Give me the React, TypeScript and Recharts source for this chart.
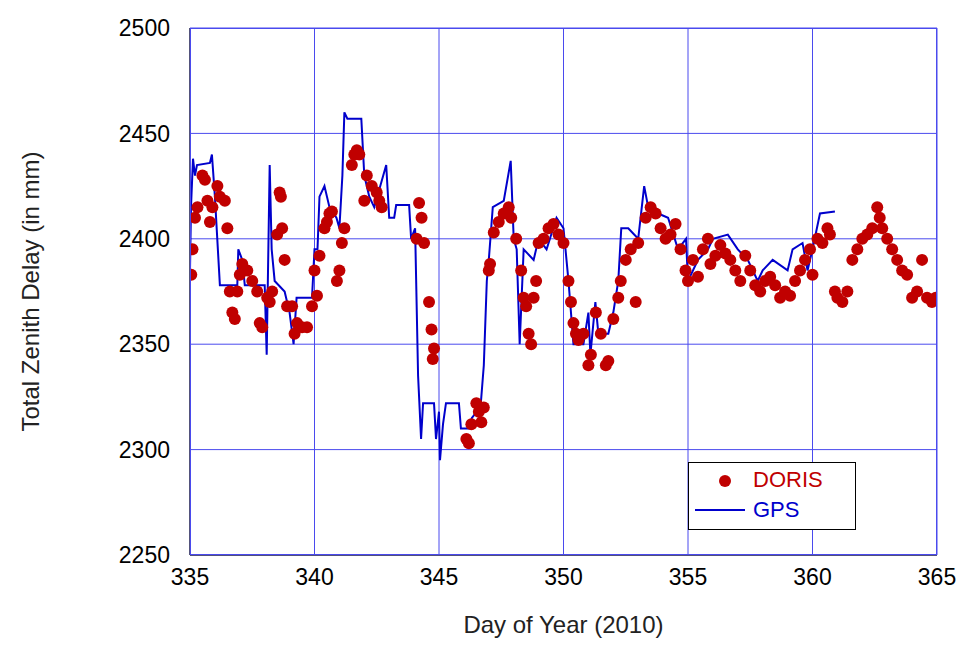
import React from "react";
import { ComposedChart, Scatter, Line, XAxis, YAxis, CartesianGrid } from "recharts";

const gpsDays = [335.0,335.04,335.12,335.2,335.28,335.8,335.88,336.0,336.2,336.9,336.94,337.1,337.2,338.0,338.08,338.2,338.28,338.4,338.8,339.0,339.16,339.28,339.9,340.0,340.12,340.2,340.4,340.6,340.88,341.0,341.12,341.2,341.32,341.88,342.0,342.2,342.4,342.88,343.0,343.2,343.28,343.8,343.88,344.04,344.16,344.28,344.36,344.8,344.88,345.0,345.04,345.16,345.28,345.8,345.88,346.2,346.32,346.52,346.68,346.8,346.92,347.0,347.16,347.6,347.88,348.0,348.12,348.24,348.4,348.8,349.0,349.32,349.72,350.0,350.12,350.2,350.4,350.8,351.0,351.08,351.28,351.4,351.8,352.0,352.2,352.32,352.6,353.0,353.24,353.4,353.8,354.2,354.6,354.92,355.0,355.4,355.8,356.0,356.6,357.0,357.4,357.8,358.0,358.4,359.0,359.2,359.6,359.8,360.0,360.3,360.9];
const gpsValues = [2385,2415,2438,2430,2435,2436,2440,2420,2378,2378,2395,2390,2378,2378,2345,2435,2395,2380,2375,2365,2350,2372,2372,2395,2395,2420,2425,2415,2410,2405,2430,2460,2457,2457,2430,2420,2415,2435,2410,2410,2416,2416,2400,2405,2335,2305,2322,2322,2305,2318,2295,2312,2322,2322,2310,2310,2315,2318,2322,2340,2380,2390,2415,2418,2437,2400,2395,2350,2395,2390,2400,2395,2410,2405,2390,2380,2350,2350,2365,2345,2370,2355,2355,2365,2380,2405,2405,2400,2425,2415,2412,2410,2395,2400,2380,2390,2395,2400,2402,2395,2390,2380,2385,2390,2385,2395,2398,2385,2395,2412,2413];

const dorisDays = [335.05,335.1,335.2,335.3,335.5,335.6,335.7,335.8,335.9,336.1,336.2,336.4,336.5,336.6,336.7,336.8,336.9,337.0,337.1,337.3,337.5,337.7,337.8,337.9,338.1,338.2,338.3,338.5,338.6,338.65,338.7,338.8,338.9,339.1,339.2,339.3,339.5,339.7,339.9,340.0,340.1,340.2,340.4,340.5,340.6,340.7,340.9,341.0,341.1,341.2,341.5,341.6,341.7,341.8,342.0,342.1,342.3,342.5,342.6,342.7,344.1,344.2,344.3,344.4,344.6,344.7,344.75,344.8,346.1,346.2,346.3,346.5,346.6,346.7,346.8,347.0,347.05,347.2,347.4,347.6,347.8,347.9,348.1,348.3,348.4,348.5,348.6,348.7,348.8,348.9,349.0,349.2,349.4,349.6,349.8,350.0,350.2,350.3,350.4,350.5,350.6,350.8,351.0,351.1,351.3,351.5,351.7,351.8,352.0,352.2,352.3,352.5,352.7,352.9,353.0,353.3,353.5,353.7,353.9,354.1,354.3,354.5,354.7,354.9,355.0,355.2,355.4,355.6,355.8,355.9,356.1,356.3,356.5,356.7,356.9,357.1,357.3,357.5,357.7,357.9,358.1,358.3,358.5,358.7,358.9,359.1,359.3,359.5,359.7,359.9,360.0,360.2,360.4,360.6,360.7,360.9,361.0,361.2,361.4,361.6,361.8,362.0,362.2,362.4,362.6,362.7,362.8,363.0,363.2,363.4,363.6,363.8,364.0,364.2,364.4,364.6,364.8,364.95];
const dorisValues = [2383,2395,2410,2415,2430,2428,2418,2408,2415,2425,2420,2418,2405,2375,2365,2362,2375,2383,2388,2385,2380,2375,2360,2358,2372,2370,2375,2402,2422,2420,2405,2390,2368,2368,2355,2360,2358,2358,2368,2385,2373,2392,2405,2408,2412,2413,2380,2385,2398,2405,2435,2440,2442,2440,2418,2430,2425,2422,2418,2415,2400,2417,2410,2398,2370,2357,2343,2348,2305,2303,2312,2322,2318,2313,2320,2385,2388,2403,2408,2412,2415,2410,2400,2385,2372,2368,2355,2350,2372,2380,2398,2400,2405,2407,2402,2398,2380,2370,2360,2355,2352,2355,2340,2345,2365,2355,2340,2342,2362,2372,2380,2390,2395,2370,2398,2410,2415,2412,2405,2400,2402,2407,2395,2385,2380,2390,2382,2395,2400,2388,2392,2397,2393,2390,2385,2380,2392,2385,2378,2375,2380,2382,2378,2372,2375,2373,2380,2385,2390,2395,2383,2400,2398,2405,2402,2375,2372,2370,2375,2390,2395,2400,2402,2405,2415,2410,2405,2400,2395,2390,2385,2383,2372,2375,2390,2372,2370,2372];

const xTicks = [335, 340, 345, 350, 355, 360, 365];
const yTicks = [2250, 2300, 2350, 2400, 2450, 2500];

const gps = gpsDays.map((d, i) => ({ day: d, v: gpsValues[i] }));
const doris = dorisDays.map((d, i) => ({ day: d, v: dorisValues[i] }));

const font = "'Liberation Sans', Arial, sans-serif";

export default function App() {
  return (
    <div style={{ position: "absolute", left: 0, top: 0, width: 967, height: 646, background: "#fff" }}>
      <ComposedChart width={967} height={646} margin={{ top: 28, right: 30, bottom: 51, left: 110 }}>
        <CartesianGrid stroke="#4a4aee" strokeWidth={1} />
        <XAxis type="number" dataKey="day" domain={[335, 365]} ticks={xTicks} height={40} allowDataOverflow
          tick={{ fontSize: 23, fill: "#000", fontFamily: font }} stroke="#000" tickSize={0} tickMargin={14}
          label={{ value: "Day of Year (2010)", position: "insideBottom", offset: -38, fontSize: 24, fill: "#222", fontFamily: font }} />
        <YAxis type="number" dataKey="v" domain={[2250, 2500]} ticks={yTicks} width={80} allowDataOverflow
          tick={{ fontSize: 23, fill: "#000", fontFamily: font }} stroke="#000" tickSize={0} tickMargin={20}
          label={{ value: "Total Zenith Delay (in mm)", angle: -90, position: "insideLeft", dx: -85, dy: 140, fontSize: 24, fill: "#222", fontFamily: font }} />
        <Line data={gps} dataKey="v" type="linear" stroke="#0000cc" strokeWidth={2} dot={false} isAnimationActive={false} />
        <Scatter data={doris} dataKey="v" fill="#c00000" shape={(p: any) => <circle cx={p.cx} cy={p.cy} r={6} fill="#c00000" />} isAnimationActive={false} />
      </ComposedChart>
      <div style={{ position: "absolute", left: 190, top: 28, width: 747, height: 527, border: "1px solid #4a4aee", boxSizing: "border-box", pointerEvents: "none" }} />
      <div style={{ position: "absolute", left: 688, top: 462, border: "1.5px solid #000", width: 166, height: 66, background: "#fff", fontFamily: font, fontSize: 22 }}>
        <div style={{ position: "absolute", left: 30, top: 12, width: 12, height: 12, borderRadius: 6, background: "#c00000" }} />
        <div style={{ position: "absolute", left: 64, top: 4, color: "#c00000" }}>DORIS</div>
        <div style={{ position: "absolute", left: 6, top: 46, width: 50, height: 2, background: "#0000cc" }} />
        <div style={{ position: "absolute", left: 64, top: 34, color: "#0000cc" }}>GPS</div>
      </div>
    </div>
  );
}
